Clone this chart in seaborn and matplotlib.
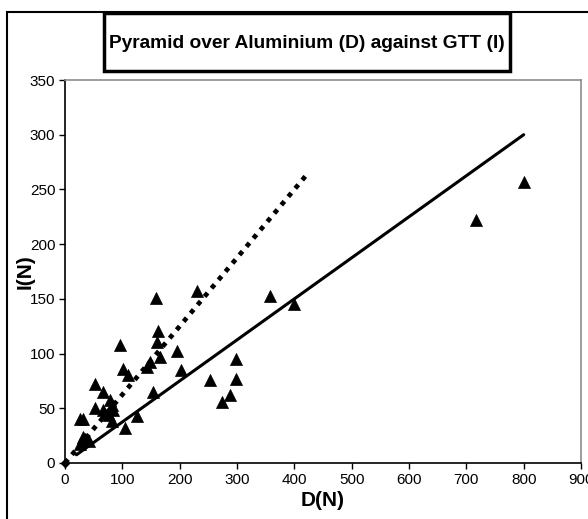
import matplotlib
matplotlib.use("Agg")
import matplotlib.pyplot as plt
from matplotlib.patches import Rectangle
import numpy as np
import pandas as pd
import seaborn as sns

# Measured loads: pyramid over aluminium (D) against GTT (I), in newtons
d_vals = [800, 716, 400, 357, 298, 298, 288, 273, 253, 230, 203, 196, 166, 163,
          161, 159, 154, 148, 143, 125, 110, 102, 105, 96, 82, 83, 82, 79, 76,
          69, 67, 66, 53, 52, 41, 32, 31, 26, 27, 35]
i_vals = [257, 222, 145, 153, 95, 77, 62, 56, 76, 157, 85, 102, 97, 121,
          111, 151, 65, 92, 88, 43, 80, 86, 32, 108, 38, 48, 53, 58, 44,
          45, 65, 48, 72, 50, 20, 24, 40, 40, 17, 22]

# Fitted line through the data and the reference (dotted) line
fit_x = [20, 800]
fit_y = [7.5, 300]
ref_x = [0, 425]
ref_y = [0, 265.6]

x_ticks = [0, 100, 200, 300, 400, 500, 600, 700, 800, 900]
y_ticks = [0, 50, 100, 150, 200, 250, 300, 350]

title = "Pyramid over Aluminium (D) against GTT (I)"
x_label = "D(N)"
y_label = "I(N)"

sns.set_theme(style="white")
plt.rcParams["font.family"] = ["Liberation Sans Narrow", "Liberation Sans", "DejaVu Sans"]
plt.rcParams.update({"text.color": "black", "axes.labelcolor": "black",
                     "xtick.color": "black", "ytick.color": "black"})

W, H = 588, 519
fig = plt.figure(figsize=(W / 100, H / 100), dpi=100)
fig.patch.set_facecolor("white")

# Outer chart frame
fig.patches.append(Rectangle((7 / W, -0.05), 1.2, 1 - 12 / H + 0.05,
                             transform=fig.transFigure, fill=False,
                             edgecolor="black", linewidth=1.5, zorder=0))

left, right, top, bottom = 65, 581, 80, 463
ax = fig.add_axes([left / W, 1 - bottom / H, (right - left) / W, (bottom - top) / H])

df = pd.DataFrame({"D": d_vals, "I": i_vals})
sns.scatterplot(data=df, x="D", y="I", marker="^", color="black", s=75,
                edgecolor="black", linewidth=0.5, ax=ax, zorder=3, clip_on=False)

ref_df = pd.DataFrame({"x": ref_x, "y": ref_y})
sns.lineplot(data=ref_df, x="x", y="y", color="black", linewidth=3.4,
             linestyle=(0, (1, 1.3)), ax=ax, zorder=2)
ax.lines[-1].set_dash_capstyle("butt")

fit_df = pd.DataFrame({"x": fit_x, "y": fit_y})
sns.lineplot(data=fit_df, x="x", y="y", color="black", linewidth=2.2, ax=ax, zorder=2)

# Origin point of the reference series
ax.plot([ref_x[0]], [ref_y[0]], marker="D", color="black", markersize=4,
        clip_on=False, zorder=4)

ax.set_xlim(0, 900)
ax.set_ylim(0, 350)
ax.set_xticks(x_ticks)
ax.set_yticks(y_ticks)
ax.set_xticklabels([str(v) for v in x_ticks], fontsize=11)
ax.set_yticklabels([str(v) for v in y_ticks], fontsize=11)
ax.tick_params(axis="both", direction="out", length=4, width=1, color="black",
               pad=3, bottom=True, left=True)

for side in ("left", "bottom"):
    ax.spines[side].set_color("black")
    ax.spines[side].set_linewidth(1.2)
for side in ("top", "right"):
    ax.spines[side].set_color("#8c8c8c")
    ax.spines[side].set_linewidth(1.2)

ax.set_xlabel(x_label, fontsize=15, fontweight="bold")
ax.set_ylabel(y_label, fontsize=15, fontweight="bold")
ax.xaxis.set_label_coords(0.5, -(501 - bottom) / (bottom - top))
ax.yaxis.set_label_coords((25 - left) / (right - left), 0.5)
ax.xaxis.label.set_va("center")
ax.yaxis.label.set_va("center")

# Boxed title
fig.patches.append(Rectangle((104 / W, 1 - 71 / H), (510 - 104) / W, (71 - 13) / H,
                             transform=fig.transFigure, facecolor="white",
                             edgecolor="black", linewidth=2.5, zorder=5))
fig.text(307 / W, 1 - 43 / H, title, ha="center", va="center",
         fontsize=13.8, fontweight="bold", zorder=6)

fig.savefig("out.png", dpi=100)
